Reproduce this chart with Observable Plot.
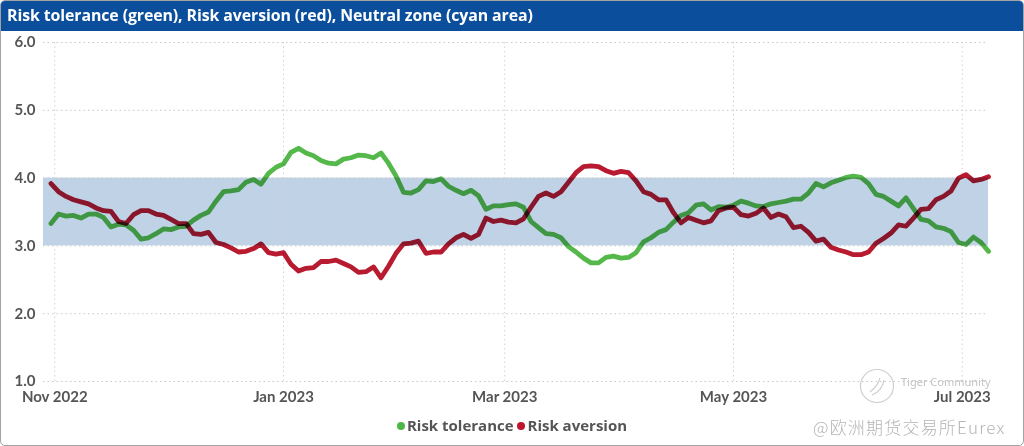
<!DOCTYPE html>
<html>
<head>
<meta charset="utf-8">
<script src="https://cdn.jsdelivr.net/npm/d3@7"></script>
<script src="https://cdn.jsdelivr.net/npm/@observablehq/plot@0.6"></script>
<style>
  body { margin: 0; background: #fff; }
  #frame { position: relative; width: 1022px; height: 444px; border: 1px solid #a3a3a3; border-radius: 5px; overflow: hidden; background: #fff; }
  #title { height: 30px; background: #0b4f9c; color: #fff; font: bold 15.9px "Open Sans", sans-serif; line-height: 29px; padding-left: 6px; white-space: nowrap; letter-spacing: -0.1px; }
  #chart { position: absolute; top: 30px; left: 0; }
  #legend { position: absolute; top: 414px; left: 0; right: 0; text-align: center; font: bold 15px "Open Sans", sans-serif; color: #555; }
  .dot { display: inline-block; width: 8px; height: 8px; border-radius: 50%; margin: 0 2px 2px 0; vertical-align: middle; }
  .wm1 { position: absolute; left: 900px; top: 374px; font: 11px "Noto Sans", sans-serif; color: #c4c4c4; line-height: 13px; }
  .wm2 { position: absolute; left: 812px; top: 413px; font: 300 17px "Noto Sans CJK SC", sans-serif; color: #b4b4b4; letter-spacing: 1.2px; }
  .logo { position: absolute; left: 857px; top: 366px; }
</style>
</head>
<body>
<div id="frame">
  <div id="title">Risk tolerance (green), Risk aversion (red), Neutral zone (cyan area)</div>
  <div id="chart"></div>
  <div id="legend"><span class="dot" style="background:#4db848"></span>Risk tolerance <span class="dot" style="background:#c0142c"></span>Risk aversion</div>
  <svg class="logo" width="38" height="38"><circle cx="19" cy="19" r="16.5" fill="none" stroke="#cfcfcf" stroke-width="1.2"/><path d="M12 25 C16 22, 20 18, 22 11 M14 28 C20 26, 25 20, 26 13" fill="none" stroke="#cfcfcf" stroke-width="1.2"/></svg>
  <div class="wm1">Tiger Community</div>
  <div class="wm2">@欧洲期货交易所Eurex</div>
</div>
<script>
const dates = [
  "2022-10-31",
  "2022-11-02","2022-11-04","2022-11-06","2022-11-08","2022-11-10","2022-11-12","2022-11-14","2022-11-16","2022-11-18","2022-11-20","2022-11-22","2022-11-24","2022-11-26","2022-11-28","2022-11-30",
  "2022-12-02","2022-12-04","2022-12-06","2022-12-08","2022-12-10","2022-12-12","2022-12-14","2022-12-16","2022-12-18","2022-12-20","2022-12-22","2022-12-24","2022-12-26","2022-12-28","2022-12-30",
  "2023-01-01","2023-01-03","2023-01-05","2023-01-07","2023-01-09","2023-01-11","2023-01-13","2023-01-15","2023-01-17","2023-01-19","2023-01-21","2023-01-23","2023-01-25","2023-01-27","2023-01-29","2023-01-31",
  "2023-02-02","2023-02-04","2023-02-06","2023-02-08","2023-02-10","2023-02-12","2023-02-14","2023-02-16","2023-02-18","2023-02-20","2023-02-22","2023-02-24","2023-02-26","2023-02-28",
  "2023-03-02","2023-03-04","2023-03-06","2023-03-08","2023-03-10","2023-03-12","2023-03-14","2023-03-16","2023-03-18","2023-03-20","2023-03-22","2023-03-24","2023-03-26","2023-03-28","2023-03-30",
  "2023-04-01","2023-04-03","2023-04-05","2023-04-07","2023-04-09","2023-04-11","2023-04-13","2023-04-15","2023-04-17","2023-04-19","2023-04-21","2023-04-23","2023-04-25","2023-04-27","2023-04-29",
  "2023-05-01","2023-05-03","2023-05-05","2023-05-07","2023-05-09","2023-05-11","2023-05-13","2023-05-15","2023-05-17","2023-05-19","2023-05-21","2023-05-23","2023-05-25","2023-05-27","2023-05-29","2023-05-31",
  "2023-06-02","2023-06-04","2023-06-06","2023-06-08","2023-06-10","2023-06-12","2023-06-14","2023-06-16","2023-06-18","2023-06-20","2023-06-22","2023-06-24","2023-06-26","2023-06-28","2023-06-30",
  "2023-07-02","2023-07-04","2023-07-06","2023-07-08"
];

const riskTolerance = [
  3.33,3.47,3.44,3.45,3.41,3.47,3.47,3.42,3.28,3.32,
  3.31,3.23,3.10,3.12,3.18,3.25,3.24,3.28,3.29,3.38,
  3.45,3.50,3.66,3.80,3.81,3.83,3.94,3.98,3.91,4.07,
  4.16,4.21,4.38,4.44,4.37,4.33,4.26,4.22,4.21,4.28,
  4.30,4.34,4.33,4.30,4.37,4.22,4.03,3.79,3.78,3.83,
  3.96,3.95,3.99,3.88,3.82,3.77,3.82,3.74,3.54,3.59,
  3.59,3.61,3.62,3.57,3.36,3.27,3.18,3.17,3.12,2.99,
  2.91,2.82,2.75,2.75,2.83,2.85,2.82,2.83,2.90,3.06,
  3.12,3.20,3.24,3.35,3.45,3.49,3.60,3.62,3.53,3.58,
  3.57,3.60,3.66,3.63,3.59,3.58,3.62,3.64,3.66,3.69,
  3.69,3.78,3.92,3.87,3.93,3.97,4.01,4.03,4.01,3.92,
  3.76,3.73,3.66,3.59,3.71,3.55,3.39,3.37,3.28,3.26,
  3.21,3.05,3.02,3.13,3.05,2.92
];

const riskAversion = [
  3.92,3.80,3.73,3.68,3.65,3.62,3.56,3.52,3.51,3.36,
  3.33,3.46,3.52,3.52,3.47,3.45,3.39,3.33,3.33,3.18,
  3.17,3.20,3.05,3.02,2.97,2.91,2.92,2.96,3.03,2.90,
  2.88,2.90,2.73,2.63,2.67,2.68,2.77,2.77,2.79,2.74,
  2.69,2.61,2.62,2.69,2.53,2.70,2.89,3.03,3.04,3.07,
  2.89,2.91,2.91,3.03,3.12,3.17,3.11,3.17,3.41,3.36,
  3.38,3.35,3.34,3.40,3.57,3.73,3.78,3.73,3.80,3.94,
  4.08,4.17,4.18,4.17,4.11,4.07,4.10,4.08,3.96,3.80,
  3.76,3.68,3.68,3.49,3.34,3.42,3.38,3.34,3.37,3.52,
  3.56,3.57,3.46,3.44,3.48,3.56,3.42,3.47,3.43,3.27,
  3.29,3.20,3.07,3.10,2.98,2.94,2.91,2.87,2.87,2.91,
  3.04,3.11,3.19,3.31,3.29,3.41,3.54,3.55,3.68,3.73,
  3.81,4.00,4.05,3.96,3.98,4.02
];

const neutralLow = 3.0;
const neutralHigh = 4.0;
const xDomain = ["2022-10-29", "2023-07-08"];
const xTickDates = ["2022-11-01", "2023-01-01", "2023-03-01", "2023-05-01", "2023-07-01"];
const xTickLabels = ["Nov 2022", "Jan 2023", "Mar 2023", "May 2023", "Jul 2023"];
const yTicks = [1, 2, 3, 4, 5, 6];
const yTickLabels = ["1.0", "2.0", "3.0", "4.0", "5.0", "6.0"];

const parse = s => new Date(s + "T00:00:00Z");
const green = dates.map((d, i) => ({date: parse(d), value: riskTolerance[i]}));
const red = dates.map((d, i) => ({date: parse(d), value: riskAversion[i]}));
const xd = xDomain.map(parse);
const xt = xTickDates.map(parse);
const band = [{x1: xd[0], x2: xd[1], y1: neutralLow, y2: neutralHigh}];

const chart = Plot.plot({
  width: 1022,
  height: 378,
  marginLeft: 42,
  marginRight: 35,
  marginTop: 11,
  marginBottom: 28,
  style: {fontFamily: "Lato, sans-serif", fontSize: "15px", fontWeight: "bold", color: "#555", background: "transparent"},
  x: {type: "utc", domain: xd, ticks: xt, tickSize: 0, tickPadding: 10,
      tickFormat: d => xTickLabels[xt.findIndex(t => +t === +d)], label: null},
  y: {domain: [1, 6], ticks: yTicks, tickSize: 0, tickPadding: 8,
      tickFormat: d => yTickLabels[yTicks.indexOf(d)], label: null},
  marks: [
    Plot.rect(band, {x1: "x1", x2: "x2", y1: "y1", y2: "y2", fill: "#bfd2e6"}),
    Plot.ruleY(yTicks, {y: d => d, stroke: "#c9c9c9", strokeDasharray: "1.5,3"}),
    Plot.ruleX(xt, {x: d => d, stroke: "#d2d2d2", strokeDasharray: "1.5,3"}),
    Plot.line(green, {x: "date", y: "value", stroke: "#55b84a", strokeWidth: 4.8, strokeLinejoin: "round", strokeLinecap: "round"}),
    Plot.line(red, {x: "date", y: "value", stroke: "#b81a30", strokeWidth: 4.8, strokeLinejoin: "round", strokeLinecap: "round"})
  ]
});
chart.querySelectorAll('[aria-label="line"]').forEach(g => { g.style.mixBlendMode = "multiply"; });
document.getElementById("chart").appendChild(chart);
</script>
</body>
</html>
